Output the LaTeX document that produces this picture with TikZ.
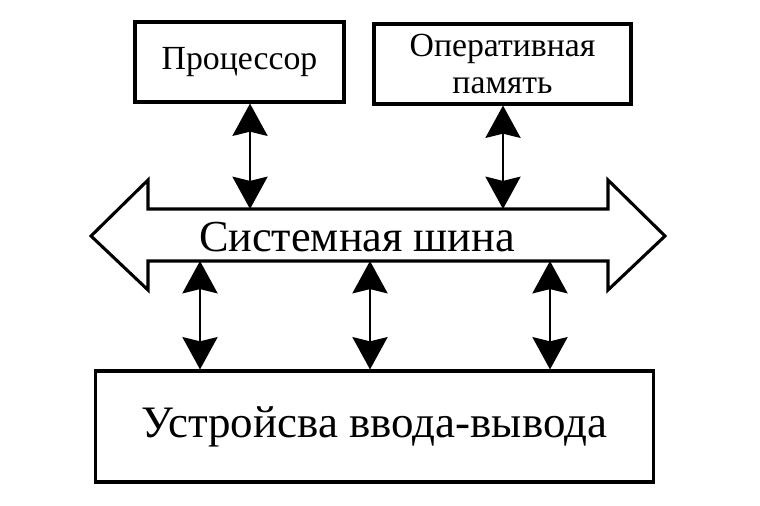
\documentclass[tikz,border=0pt]{standalone}
\usepackage{fontspec}
\setmainfont{Liberation Serif}
\usetikzlibrary{arrows.meta,positioning}

\begin{document}
\begin{tikzpicture}[
  x=0.025cm, y=-0.025cm,
  unit/.style={
    rectangle, draw=black, line width=2.2pt,
    inner sep=0pt, align=center,
    font=\fontsize{24}{27}\selectfont
  },
  busline/.style={draw=black, line width=2.2pt},
  link/.style={{Stealth[length=23pt,width=25pt,inset=3pt]}-{Stealth[length=23pt,width=25pt,inset=3pt]}, line width=1.5pt}
]
\useasboundingbox (0,0) rectangle (760,505);

% Processor and memory
\node[unit, minimum width=5.225cm, minimum height=2cm] (cpu) at (239.5,62) {Процессор};
\node[unit, minimum width=6.425cm, minimum height=2cm] (ram) at (502.5,64) {Оперативная\\память};

% System bus
\draw[busline] (91,236) -- (148,180) -- (148,209) -- (608,209) -- (608,180)
  -- (665,236) -- (608,290) -- (608,261) -- (148,261) -- (148,290) -- cycle;
\node[font=\fontsize{31.5}{31.5}\selectfont] (bus) at (357,237) {Системная шина};

% Ports on the bus
\coordinate (p1) at (250,209);
\coordinate (p2) at (503,209);
\coordinate (q1) at (200,261);
\coordinate (q2) at (370,261);
\coordinate (q3) at (550,261);

% I/O devices
\node[unit, minimum width=13.925cm, minimum height=2.775cm, font=\fontsize{32}{32}\selectfont] (io) at (374.5,426.5) {Устройсва ввода-вывода};

\draw[link] (cpu.south -| p1) -- (p1);
\draw[link] (ram.south -| p2) -- (p2);
\draw[link] (q1) -- (q1 |- io.north);
\draw[link] (q2) -- (q2 |- io.north);
\draw[link] (q3) -- (q3 |- io.north);
\end{tikzpicture}
\end{document}
